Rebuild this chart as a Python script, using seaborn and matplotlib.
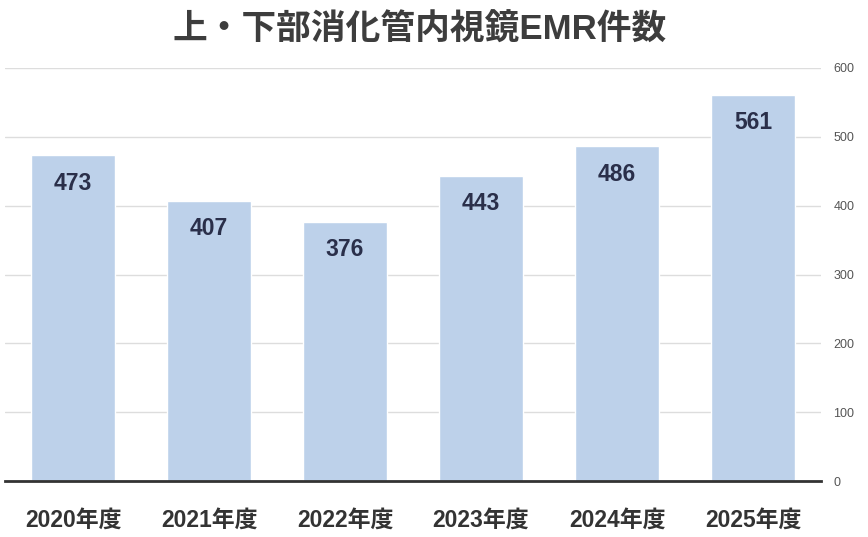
import matplotlib
matplotlib.use('Agg')
import matplotlib.pyplot as plt
import seaborn as sns
import pandas as pd

years = ['2020年度', '2021年度', '2022年度', '2023年度', '2024年度', '2025年度']
counts = [473, 407, 376, 443, 486, 561]

sns.set_style('white')
plt.rcParams['font.family'] = ['Liberation Sans', 'Noto Sans CJK JP', 'DejaVu Sans']

df = pd.DataFrame({'year': years, 'count': counts})

fig = plt.figure(figsize=(8.68, 5.37), dpi=100)
ax = fig.add_axes([5 / 868, 1 - 481 / 537, 816 / 868, 413 / 537])

sns.barplot(data=df, x='year', y='count', color='#BDD1EA', saturation=1,
            width=0.62, ax=ax, zorder=2)

ax.set_xlim(-0.5, 5.5)
ax.set_ylim(0, 600)
ax.set_yticks(range(0, 601, 100))
ax.yaxis.tick_right()
ax.grid(axis='y', color='#dddddd', linewidth=1, zorder=0)
ax.tick_params(axis='y', length=0, pad=9, labelsize=9, labelcolor='#555555')
ax.tick_params(axis='x', length=0, pad=20, labelsize=16.5, labelcolor='#333333')
for lbl in ax.get_xticklabels():
    lbl.set_fontweight('bold')
ax.set_xlabel('')
ax.set_ylabel('')

for s in ['top', 'left', 'right']:
    ax.spines[s].set_visible(False)
ax.spines['bottom'].set_color('#333333')
ax.spines['bottom'].set_linewidth(2)
ax.spines['bottom'].set_zorder(3)

# 数値ラベル（棒の上端の内側）
for i, v in enumerate(counts):
    ax.annotate(str(v), (i, v), xytext=(0, -20), textcoords='offset points',
                ha='center', va='center', fontsize=16.5, fontweight='bold',
                color='#2A2F4A', zorder=4)

fig.text(420 / 868, 1 - 30 / 537, '上・下部消化管内視鏡EMR件数', ha='center', va='center',
         fontsize=25, fontweight='bold', color='#3d3d3d')

fig.savefig('out.png', dpi=100)
